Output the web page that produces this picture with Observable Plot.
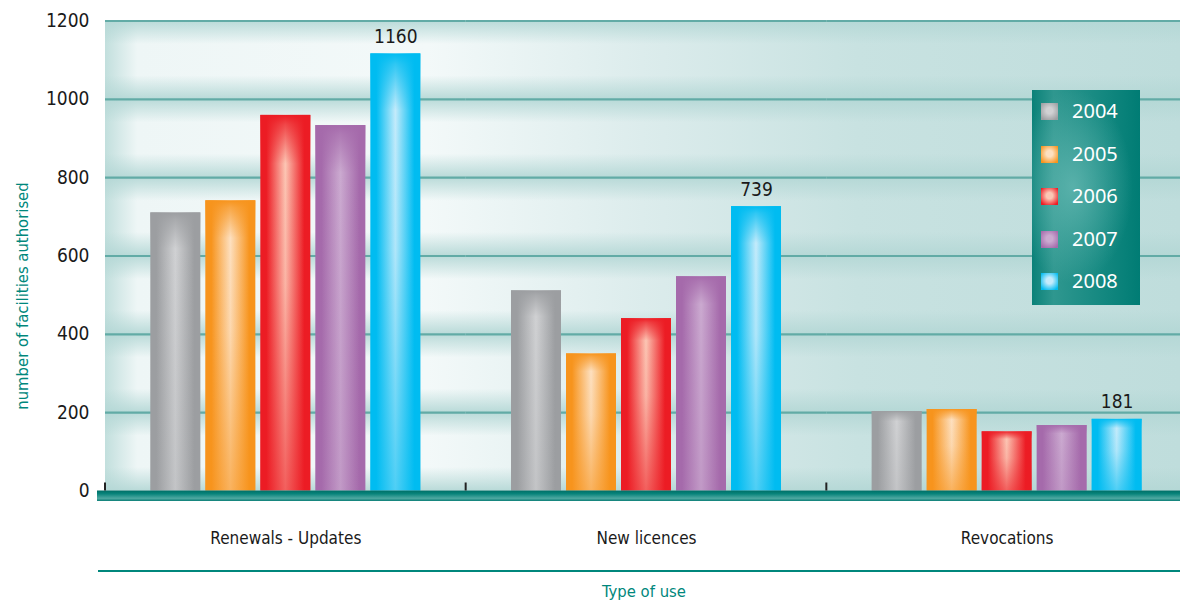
<!DOCTYPE html>
<html><head><meta charset="utf-8">
<script src="https://cdn.jsdelivr.net/npm/d3@7"></script>
<script src="https://cdn.jsdelivr.net/npm/@observablehq/plot@0.6"></script>
<style>
body{margin:0;background:#fff;}
#wrap{position:relative;width:1180px;height:603px;overflow:hidden;font-family:"DejaVu Sans Condensed","Liberation Sans Narrow","DejaVu Sans",sans-serif;}
#ylab{position:absolute;left:22px;top:296px;transform:translate(-50%,-50%) rotate(-90deg);white-space:nowrap;font-size:16.5px;color:#00877c;}
#xlab{position:absolute;left:98px;top:570px;width:1072px;padding-left:10px;border-top:2px solid #00877c;padding-top:10px;text-align:center;font-size:16.5px;line-height:20px;color:#00877c;}
#legend{position:absolute;left:1032px;top:90px;width:108px;height:215px;
 background:radial-gradient(ellipse 55% 45% at 38% 45%, rgba(110,190,184,0.7), rgba(110,190,184,0) 100%),linear-gradient(90deg,#0a8178 0%,#2f978f 20%,#178a82 60%,#007c74 100%);}
.li{position:absolute;left:9px;height:20px;}
.sw{position:absolute;left:0;top:1px;width:17px;height:17px;}
.lt{position:absolute;left:31px;top:-4px;font-family:"Noto Sans","Open Sans",sans-serif;font-size:20px;color:#fff;line-height:26px;}
</style></head><body><div id="wrap"><div id="ylab"></div><div id="xlab"></div><div id="legend"></div></div>
<script>
// ---- data ----
const categories = ["Renewals - Updates", "New licences", "Revocations"];
const years = ["2004", "2005", "2006", "2007", "2008"];
const values2004 = [710, 511, 203];
const values2005 = [741, 350, 208];
const values2006 = [959, 440, 151];
const values2007 = [933, 547, 167];
const values2008 = [1116, 726, 183];
const labels2008 = ["1160", "739", "181"];
const yTicks = [0, 200, 400, 600, 800, 1000, 1200];
const yTitle = "number of facilities authorised";
const xTitle = "Type of use";

// ---- colours (edge, light centre) ----
const barEdge  = {"2004":"#9c9ea1","2005":"#f7941d","2006":"#ec1c24","2007":"#a56aab","2008":"#00bcf1"};
const barLight = {"2004":"#d0d1d3","2005":"#fde0c0","2006":"#fcc6b4","2007":"#cbaad0","2008":"#c4ebfb"};

const series = [values2004, values2005, values2006, values2007, values2008];
const data = [];
categories.forEach((c, i) => years.forEach((yr, j) => data.push({category: c, year: yr, value: series[j][i]})));
const labelRows = categories.map((c, i) => ({category: c, year: "2008", value: values2008[i], label: labels2008[i]}));

const FONT = '"DejaVu Sans Condensed","Liberation Sans Narrow","DejaVu Sans",sans-serif';

const chart = Plot.plot({
  width: 1180, height: 560,
  marginLeft: 105, marginRight: 0, marginTop: 20.5, marginBottom: 69.5,
  style: {fontFamily: FONT, color: "#1a1a1a", background: "transparent", overflow: "visible"},
  fx: {domain: categories, range: [105, 1187], padding: 0, axis: null, round: false},
  x: {domain: years, axis: null, paddingInner: 0.091, paddingOuter: 0.824, round: false},
  y: {domain: [0, 1200], axis: null},
  color: {type: "identity"},
  marks: [
    Plot.gridY(yTicks.filter(t => t > 0), {stroke: "#62aba6", strokeOpacity: 1, strokeWidth: 2.2}),
    Plot.barY(data, {fx: "category", x: "year", y: "value", fill: d => `url(#h${d.year})`}),
    Plot.barY(data, {fx: "category", x: "year", y: "value", fill: d => `url(#v${d.year})`}),
    Plot.text(labelRows, {fx: "category", x: "year", y: "value", text: "label", dy: -11, lineAnchor: "bottom", fontSize: 19, fill: "#1a1a1a"}),
    Plot.axisY(yTicks, {tickSize: 0, tickPadding: 16, fontSize: 19, label: null, fill: "#1a1a1a", tickFormat: d3.format("d")}),
    Plot.axisFx({anchor: "bottom", tickSize: 0, tickPadding: 41, fontSize: 17, label: null, fill: "#1a1a1a"})
  ]
});

// ---- gradients & decoration using the chart's own scales ----
const svg = d3.select(chart);
const defs = svg.insert("defs", ":first-child");
years.forEach(yr => {
  const h = defs.append("linearGradient").attr("id", "h" + yr);
  [[0, barEdge[yr]], [0.12, barEdge[yr]], [0.5, barLight[yr]], [0.88, barEdge[yr]], [1, barEdge[yr]]]
    .forEach(([o, c]) => h.append("stop").attr("offset", o).attr("stop-color", c));
  const v = defs.append("linearGradient").attr("id", "v" + yr).attr("x1",0).attr("y1",0).attr("x2",0).attr("y2",1);
  const bottomA = (yr === "2004" || yr === "2007") ? 0.25 : 0.6;
  [[0, 1], [0.025, 0.75], [0.13, 0], [0.45, 0.1], [1, bottomA]]
    .forEach(([o, a]) => v.append("stop").attr("offset", o).attr("stop-color", barEdge[yr]).attr("stop-opacity", a));
});
const bgH = defs.append("linearGradient").attr("id", "bgH");
[[0,"#c2dfdd"],[0.03,"#eef6f6"],[0.3,"#f3f9f9"],[0.5,"#dcecec"],[0.7,"#c8e2e1"],[1,"#bfdddc"]]
  .forEach(([o,c]) => bgH.append("stop").attr("offset", o).attr("stop-color", c));
const bgV = defs.append("linearGradient").attr("id", "bgV").attr("x1",0).attr("y1",0).attr("x2",0).attr("y2",1);
[[0,"#b3d7d5",0.9],[0.3,"#b3d7d5",0],[0.7,"#b3d7d5",0],[1,"#b3d7d5",0.9]]
  .forEach(([o,c,a]) => bgV.append("stop").attr("offset", o).attr("stop-color", c).attr("stop-opacity", a));
const base = defs.append("linearGradient").attr("id", "baseG").attr("x1",0).attr("y1",0).attr("x2",0).attr("y2",1);
[[0,"#006e66"],[0.3,"#07837a"],[0.75,"#4ea8a1"],[1,"#0a7e76"]]
  .forEach(([o,c]) => base.append("stop").attr("offset", o).attr("stop-color", c));

const ys = chart.scale("y"), fxs = chart.scale("fx");
const left = fxs.apply(categories[0]);
const right = 1180;
const bg = svg.insert("g", "defs + *");
bg.append("rect").attr("x", left).attr("y", ys.apply(1200)).attr("width", right - left)
  .attr("height", ys.apply(0) - ys.apply(1200)).attr("fill", "url(#bgH)");
for (let i = 0; i < yTicks.length - 1; i++) {
  bg.append("rect").attr("x", left).attr("y", ys.apply(yTicks[i + 1])).attr("width", right - left)
    .attr("height", ys.apply(yTicks[i]) - ys.apply(yTicks[i + 1])).attr("fill", "url(#bgV)");
}
const y0 = ys.apply(0);
svg.append("rect").attr("x", left - 8).attr("y", y0).attr("width", right - left + 8).attr("height", 10.5).attr("fill", "url(#baseG)");
categories.forEach(c => {
  const xx = fxs.apply(c);
  svg.append("line").attr("x1", xx).attr("x2", xx).attr("y1", y0 - 8).attr("y2", y0).attr("stroke", "#222").attr("stroke-width", 2);
});

document.getElementById("wrap").prepend(chart);
document.getElementById("ylab").textContent = yTitle;
document.getElementById("xlab").textContent = xTitle;

// ---- legend ----
const leg = document.getElementById("legend");
years.forEach((yr, i) => {
  const item = document.createElement("div");
  item.className = "li";
  item.style.top = (12 + i * 42.5) + "px";
  const sw = document.createElement("div");
  sw.className = "sw";
  sw.style.background = `radial-gradient(circle at 50% 45%, ${barLight[yr]} 0%, ${barLight[yr]} 25%, ${barEdge[yr]} 85%)`;
  const t = document.createElement("div");
  t.className = "lt";
  t.textContent = yr;
  item.appendChild(sw); item.appendChild(t);
  leg.appendChild(item);
});
chart.style.position = "absolute"; chart.style.left = "0"; chart.style.top = "0";
</script></body></html>
